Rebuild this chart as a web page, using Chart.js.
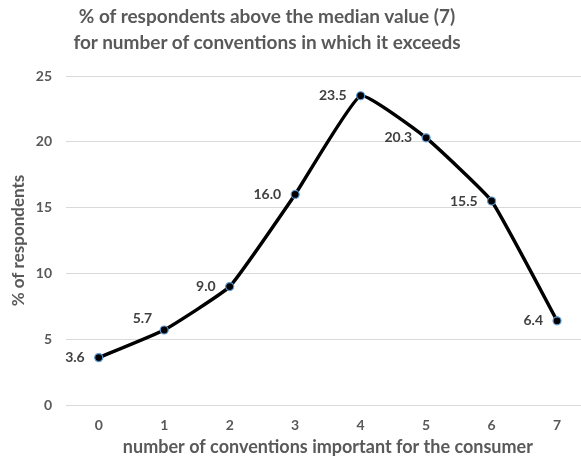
<!DOCTYPE html>
<html>
<head>
<meta charset="utf-8">
<script src="https://cdn.jsdelivr.net/npm/chart.js@4/dist/chart.umd.min.js"></script>
<style>
  html, body { margin: 0; padding: 0; background: #fff; overflow: hidden; width: 581px; height: 462px; }
  #wrap { position: relative; width: 595px; height: 462px; }
  #title { position: absolute; left: 0; top: 3px; width: 534px; text-align: center;
    font-family: Lato, "Open Sans", sans-serif; font-weight: bold; font-size: 19px; line-height: 26px; color: #595959; }
</style>
</head>
<body>
<div id="wrap">
  <canvas id="c" width="595" height="462"></canvas>
  <div id="title">% of respondents above the median value (7)<br>for number of conventions in which it exceeds</div>
</div>
<script>
const categories = ["0", "1", "2", "3", "4", "5", "6", "7"];
const percentValues = [3.6, 5.7, 9.0, 16.0, 23.5, 20.3, 15.5, 6.4];
const yTicks = [0, 5, 10, 15, 20, 25];
const labelPlacement = ["left", "above-left", "left", "left", "left", "left", "left", "left"];

const FONT = 'Lato, "Open Sans", sans-serif';

const valueLabels = {
  id: 'valueLabels',
  afterDatasetsDraw(chart) {
    const ctx = chart.ctx;
    const meta = chart.getDatasetMeta(0);
    ctx.save();
    ctx.font = 'bold 14px ' + FONT;
    ctx.fillStyle = '#404040';
    ctx.textAlign = 'right';
    ctx.textBaseline = 'middle';
    meta.data.forEach((pt, i) => {
      const v = percentValues[i].toFixed(1);
      let dx = -14, dy = 0;
      if (labelPlacement[i] === 'above-left') { dx = -12; dy = -12; }
      ctx.fillText(v, pt.x + dx, pt.y + dy);
    });
    ctx.restore();
  }
};

new Chart(document.getElementById('c'), {
  type: 'line',
  data: {
    labels: categories,
    datasets: [{
      data: percentValues,
      borderColor: '#000000',
      borderWidth: 3.5,
      tension: 0.12,
      pointRadius: 4,
      pointBackgroundColor: '#000000',
      pointBorderColor: '#5b9bd5',
      pointBorderWidth: 1.2,
      fill: false
    }]
  },
  options: {
    responsive: false,
    animation: false,
    devicePixelRatio: 1,
    layout: { padding: { top: 76, right: 4, left: 0, bottom: 0 } },
    plugins: { legend: { display: false }, tooltip: { enabled: false }, title: { display: false } },
    scales: {
      x: {
        offset: true,
        grid: { display: false, drawTicks: false },
        border: { display: false },
        ticks: { color: '#595959', font: { family: FONT, size: 14, weight: 'bold' }, padding: 12 },
        title: { display: true, text: 'number of conventions important for the consumer', color: '#595959',
          font: { family: FONT, size: 18, weight: 'bold' }, padding: { top: 8 } },
        afterFit(s) { s.height = 57; }
      },
      y: {
        min: 0, max: 25,
        afterBuildTicks(s) { s.ticks = yTicks.map(v => ({ value: v })); },
        grid: { color: '#d9d9d9', lineWidth: 1, drawTicks: false },
        border: { display: false },
        ticks: { color: '#595959', font: { family: FONT, size: 14, weight: 'bold' }, padding: 14 },
        title: { display: true, text: '% of respondents', color: '#595959',
          font: { family: FONT, size: 17, weight: 'bold' }, padding: { top: 8, bottom: 0 } },
        afterFit(s) { s.width = 66; }
      }
    }
  },
  plugins: [valueLabels]
});
</script>
</body>
</html>
